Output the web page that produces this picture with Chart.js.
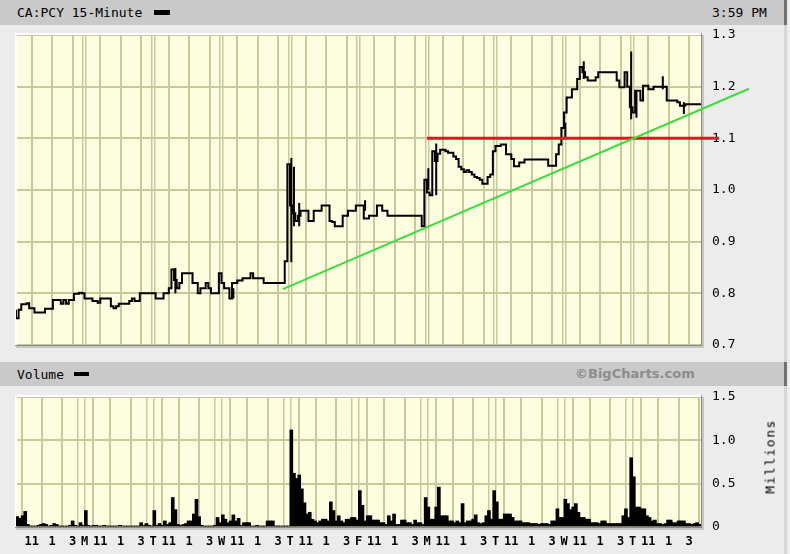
<!DOCTYPE html>
<html>
<head>
<meta charset="utf-8">
<script src="https://cdn.jsdelivr.net/npm/chart.js@4.4.1/dist/chart.umd.min.js"></script>
<style>
  body { margin: 0; background: #ececec; }
  #wrap { position: relative; width: 790px; height: 554px; overflow: hidden; background: #ececec;
          font-family: 'DejaVu Sans Mono', monospace; font-size: 13px; color: #000; }
  canvas { position: absolute; left: 0; top: 0; }
  .hbar { position: absolute; left: 0; width: 784px; background: #c9c9c9; }
  .edge { position: absolute; left: 784px; width: 3px; }
  .txt { position: absolute; white-space: nowrap; }
  .swatch { position: absolute; background: #000; }
</style>
</head>
<body>
<div id="wrap">
  <div class="hbar" style="top:0; height:25px;"></div>
  <div class="edge" style="top:0; height:25px; background:#707070;"></div>
  <div class="edge" style="top:25px; height:337px; background:#d6d6d6;"></div>
  <div class="hbar" style="top:362px; height:24px;"></div>
  <div class="edge" style="top:362px; height:24px; background:#707070;"></div>
  <div class="edge" style="top:386px; height:168px; background:#d6d6d6;"></div>

  <div class="txt" style="left:17px; top:5px;">CA:PCY 15-Minute</div>
  <div class="swatch" style="left:154px; top:10px; width:16px; height:5px;"></div>
  <div class="txt" style="left:712px; top:5px;">3:59 PM</div>

  <div class="txt" style="left:17px; top:367px;">Volume</div>
  <div class="swatch" style="left:74px; top:372px; width:15px; height:4px;"></div>
  <div class="txt" style="left:575px; top:366px; font-family:'DejaVu Sans', sans-serif; font-weight:bold; color:#8c8c8c;">©BigCharts.com</div>

  <canvas id="priceChart" width="790" height="554"></canvas>
  <canvas id="volChart" width="790" height="554"></canvas>

  <div class="txt" style="left:730px; top:449px; width:80px; text-align:center; transform:rotate(-90deg); letter-spacing:1.5px; font-size:13px;">Millions</div>
</div>

<script>
// 10 trading days of 15-minute bars, 26 bars per day (9:30 - 16:00)
var DAYS = 10;
var BARS_PER_DAY = 26;
var dayLetters = ['', 'M', 'T', 'W', 'T', 'F', 'M', 'T', 'W', 'T'];
var hourLabels = ['11', '1', '3'];
var hourOffsets = [6, 13.7, 21.5];

// closing price per bar
var price = [
  // day 0
  0.768, 0.752, 0.768, 0.779, 0.779, 0.781, 0.771, 0.771, 0.763, 0.763, 0.763, 0.763, 0.770,
  0.770, 0.770, 0.787, 0.787, 0.787, 0.780, 0.787, 0.780, 0.787, 0.787, 0.799, 0.799, 0.801,
  // M
  0.800, 0.790, 0.790, 0.790, 0.785, 0.785, 0.782, 0.790, 0.790, 0.790, 0.790, 0.775, 0.771,
  0.775, 0.780, 0.780, 0.780, 0.780, 0.785, 0.790, 0.785, 0.785, 0.800, 0.800, 0.800, 0.800,
  // T
  0.800, 0.800, 0.790, 0.790, 0.790, 0.800, 0.800, 0.810, 0.846, 0.826, 0.810, 0.820, 0.839,
  0.839, 0.839, 0.839, 0.820, 0.820, 0.800, 0.810, 0.810, 0.820, 0.810, 0.800, 0.800, 0.800,
  // W
  0.839, 0.820, 0.810, 0.810, 0.790, 0.820, 0.820, 0.825, 0.825, 0.829, 0.829, 0.829, 0.839,
  0.829, 0.829, 0.829, 0.829, 0.820, 0.820, 0.820, 0.820, 0.820, 0.820, 0.820, 0.820, 0.862,
  // T
  1.050, 0.970, 0.955, 0.940, 0.950, 0.960, 0.960, 0.960, 0.940, 0.940, 0.960, 0.960, 0.960,
  0.970, 0.970, 0.970, 0.940, 0.938, 0.930, 0.930, 0.930, 0.950, 0.950, 0.960, 0.960, 0.960,
  // F
  0.970, 0.970, 0.970, 0.945, 0.945, 0.950, 0.950, 0.950, 0.970, 0.970, 0.960, 0.960, 0.950,
  0.950, 0.950, 0.950, 0.950, 0.950, 0.950, 0.950, 0.950, 0.950, 0.950, 0.950, 0.950, 0.930,
  // M
  1.020, 0.995, 0.990, 1.075, 1.056, 1.070, 1.078, 1.078, 1.075, 1.072, 1.072, 1.065, 1.060,
  1.045, 1.040, 1.035, 1.038, 1.035, 1.030, 1.025, 1.023, 1.020, 1.012, 1.012, 1.025, 1.030,
  // T
  1.075, 1.085, 1.085, 1.088, 1.088, 1.069, 1.069, 1.060, 1.046, 1.046, 1.053, 1.053, 1.059,
  1.059, 1.059, 1.059, 1.059, 1.059, 1.059, 1.059, 1.059, 1.047, 1.047, 1.047, 1.069, 1.088,
  // W
  1.120, 1.150, 1.179, 1.179, 1.195, 1.195, 1.215, 1.238, 1.228, 1.218, 1.212, 1.212, 1.212,
  1.218, 1.228, 1.228, 1.228, 1.228, 1.228, 1.228, 1.228, 1.212, 1.199, 1.199, 1.228, 1.200,
  // T
  1.160, 1.150, 1.192, 1.192, 1.173, 1.202, 1.202, 1.195, 1.195, 1.200, 1.200, 1.200, 1.200,
  1.200, 1.173, 1.173, 1.173, 1.173, 1.170, 1.163, 1.163, 1.166, 1.166, 1.166, 1.166, 1.166
];

// bars with a visible high-low range
var spikeBar  = [60, 82, 104, 105, 107, 132, 156, 159, 208, 215, 233, 235, 245, 253];
var spikeLow  = [0.800, 0.790, 0.860, 0.930, 0.930, 0.960, 1.000, 0.990, 1.100, 1.215, 1.137, 1.140, 1.195, 1.147];
var spikeHigh = [0.849, 0.810, 1.062, 1.045, 0.975, 0.980, 1.042, 1.090, 1.130, 1.249, 1.268, 1.190, 1.220, 1.170];

// volume per bar, millions
var volume = [
  0.12, 0.10, 0.13, 0.18, 0.03, 0.01, 0.01, 0.01, 0.02, 0.03, 0.04, 0.03, 0.01,
  0.02, 0.04, 0.03, 0.01, 0.01, 0.01, 0.01, 0.02, 0.07, 0.02, 0.01, 0.05, 0.02,
  0.19, 0.02, 0.01, 0.02, 0.02, 0.01, 0.01, 0.02, 0.01, 0.01, 0.01, 0.01, 0.01,
  0.02, 0.01, 0.01, 0.01, 0.01, 0.01, 0.01, 0.01, 0.05, 0.02, 0.04, 0.02, 0.01,
  0.19, 0.02, 0.04, 0.02, 0.07, 0.03, 0.05, 0.34, 0.20, 0.03, 0.02, 0.03, 0.04,
  0.07, 0.07, 0.15, 0.32, 0.12, 0.02, 0.01, 0.01, 0.01, 0.01, 0.02, 0.11, 0.05,
  0.14, 0.09, 0.05, 0.07, 0.14, 0.07, 0.10, 0.02, 0.05, 0.05, 0.05, 0.01, 0.01,
  0.02, 0.01, 0.01, 0.01, 0.07, 0.07, 0.07, 0.01, 0.01, 0.01, 0.01, 0.01, 0.01,
  1.12, 0.62, 0.56, 0.60, 0.44, 0.28, 0.15, 0.17, 0.09, 0.07, 0.05, 0.07, 0.09,
  0.09, 0.07, 0.29, 0.19, 0.07, 0.13, 0.07, 0.05, 0.09, 0.09, 0.11, 0.11, 0.08,
  0.42, 0.25, 0.07, 0.13, 0.13, 0.08, 0.08, 0.08, 0.05, 0.05, 0.03, 0.13, 0.07,
  0.15, 0.03, 0.03, 0.08, 0.08, 0.05, 0.05, 0.03, 0.08, 0.05, 0.05, 0.03, 0.34,
  0.23, 0.09, 0.09, 0.23, 0.46, 0.13, 0.13, 0.13, 0.07, 0.07, 0.05, 0.07, 0.05,
  0.27, 0.05, 0.07, 0.07, 0.09, 0.14, 0.05, 0.04, 0.05, 0.13, 0.19, 0.09, 0.42,
  0.29, 0.09, 0.09, 0.15, 0.15, 0.15, 0.11, 0.07, 0.07, 0.07, 0.05, 0.05, 0.05,
  0.04, 0.04, 0.04, 0.03, 0.04, 0.04, 0.04, 0.03, 0.07, 0.07, 0.21, 0.11, 0.11,
  0.32, 0.27, 0.20, 0.23, 0.27, 0.17, 0.11, 0.11, 0.09, 0.09, 0.05, 0.05, 0.05,
  0.04, 0.07, 0.07, 0.04, 0.04, 0.04, 0.04, 0.04, 0.04, 0.13, 0.21, 0.11, 0.80,
  0.58, 0.23, 0.23, 0.21, 0.21, 0.13, 0.11, 0.07, 0.08, 0.04, 0.04, 0.03, 0.04,
  0.08, 0.08, 0.05, 0.05, 0.07, 0.07, 0.07, 0.04, 0.04, 0.03, 0.04, 0.05, 0.03
];

// drawn lines (bar index, price)
var trendX = [101.3, 278.2];
var trendY = [0.808, 1.196];
var resistX = [156, 266.8];
var resistY = [1.1, 1.1];

var GRID = '#c9c99b';
var FONT = 'DejaVu Sans Mono';

// x grid: day edges are double lines, hour lines at 11, 1, 3
var tickVals = [], tickText = [], tickKind = [];
for (var d = 0; d < DAYS; d++) {
  var s = d * BARS_PER_DAY;
  if (d > 0) {
    tickVals.push(s - 0.5); tickText.push(''); tickKind.push('edge');
    tickVals.push(s); tickText.push(dayLetters[d]); tickKind.push('day');
    tickVals.push(s + 0.5); tickText.push(''); tickKind.push('edge');
  }
  for (var k = 0; k < hourOffsets.length; k++) {
    tickVals.push(s + hourOffsets[k]); tickText.push(hourLabels[k]); tickKind.push('hour');
  }
}

function setTicks(scale) {
  scale.ticks = tickVals.map(function (v) { return {value: v}; });
}
function gridColor(ctx) {
  return tickKind[ctx.index] === 'day' ? 'rgba(0,0,0,0)' : GRID;
}
function gridWidth(ctx) {
  return tickKind[ctx.index] === 'edge' ? 1.5 : 2;
}

var framePlugin = {
  id: 'frame',
  beforeDraw: function (chart) {
    var ctx = chart.ctx, a = chart.chartArea;
    ctx.save();
    ctx.fillStyle = '#fdfde0';
    ctx.fillRect(a.left, a.top, a.right - a.left, a.bottom - a.top);
    ctx.restore();
  },
  beforeDatasetsDraw: function (chart) {
    var ctx = chart.ctx, a = chart.chartArea;
    ctx.save();
    ctx.fillStyle = '#ffffff';
    ctx.fillRect(a.left - 1, a.top - 2, a.right - a.left + 1, 2);
    ctx.fillRect(a.left - 1, a.top - 2, 2, a.bottom - a.top + 2);
    ctx.fillStyle = '#8a8a8a';
    ctx.fillRect(a.left - 1, a.bottom, a.right - a.left + 2, 1);
    ctx.fillRect(a.right, a.top - 2, 1, a.bottom - a.top + 3);
    ctx.fillStyle = '#c6c6c6';
    ctx.fillRect(a.left, a.bottom + 1, a.right - a.left + 3, 2);
    ctx.fillRect(a.right + 1, a.top, 2, a.bottom - a.top + 3);
    ctx.restore();
  }
};

var pricePoints = price.map(function (v, i) { return {x: i, y: v}; });
pricePoints.push({x: price.length, y: price[price.length - 1]});

var spikePoints = [];
spikeBar.forEach(function (b, i) {
  spikePoints.push({x: b + 0.5, y: spikeLow[i]});
  spikePoints.push({x: b + 0.5, y: spikeHigh[i]});
  spikePoints.push({x: b + 0.5, y: null});
});

var common = {
  animation: false,
  responsive: false,
  events: [],
  plugins: {legend: {display: false}, tooltip: {enabled: false}}
};

new Chart(document.getElementById('priceChart'), {
  type: 'line',
  data: {
    datasets: [
      {data: trendX.map(function (x, i) { return {x: x, y: trendY[i]}; }),
       borderColor: '#3ddc3d', borderWidth: 2, pointRadius: 0, clip: false, order: 0},
      {data: resistX.map(function (x, i) { return {x: x, y: resistY[i]}; }),
       borderColor: '#e3141c', borderWidth: 3, pointRadius: 0, clip: false, order: 1},
      {data: pricePoints, borderColor: '#000', borderWidth: 2, pointRadius: 0, stepped: 'after', order: 2},
      {data: spikePoints, borderColor: '#000', borderWidth: 2, pointRadius: 0, spanGaps: false, order: 2}
    ]
  },
  options: Object.assign({}, common, {
    layout: {padding: {left: 16, top: 35, right: 0, bottom: 209}},
    scales: {
      x: {
        type: 'linear', min: 0, max: BARS_PER_DAY * DAYS,
        afterBuildTicks: setTicks,
        afterFit: function (sc) { sc.height = 0; },
        ticks: {display: false},
        grid: {color: gridColor, lineWidth: gridWidth, drawTicks: false},
        border: {display: false}
      },
      y: {
        position: 'right', min: 0.7, max: 1.3,
        afterFit: function (sc) { sc.width = 89; },
        ticks: {stepSize: 0.1, padding: 11, color: '#000', font: {family: FONT, size: 13},
                callback: function (v) { return v.toFixed(1); }},
        grid: {color: GRID, lineWidth: 2, drawTicks: false},
        border: {display: false}
      }
    }
  }),
  plugins: [framePlugin]
});

new Chart(document.getElementById('volChart'), {
  type: 'bar',
  data: {
    datasets: [{
      data: volume.map(function (v, i) { return {x: i + 0.5, y: v}; }),
      backgroundColor: '#000', borderWidth: 0, barThickness: 3
    }]
  },
  options: Object.assign({}, common, {
    layout: {padding: {left: 16, top: 397, right: 0, bottom: 0}},
    scales: {
      x: {
        type: 'linear', min: 0, max: BARS_PER_DAY * DAYS, offset: false,
        afterBuildTicks: setTicks,
        afterFit: function (sc) { sc.height = 27; },
        ticks: {autoSkip: false, maxRotation: 0, padding: 8, color: '#000',
                font: {family: FONT, size: 12, weight: 'bold'},
                callback: function (v, i) { return tickText[i]; }},
        grid: {color: gridColor, lineWidth: gridWidth, drawTicks: false},
        border: {display: false}
      },
      y: {
        position: 'right', min: 0, max: 1.5,
        afterFit: function (sc) { sc.width = 89; },
        ticks: {stepSize: 0.5, padding: 11, color: '#000', font: {family: FONT, size: 13}},
        grid: {color: GRID, lineWidth: 2, drawTicks: false},
        border: {display: false}
      }
    }
  }),
  plugins: [framePlugin]
});
</script>
</body>
</html>
